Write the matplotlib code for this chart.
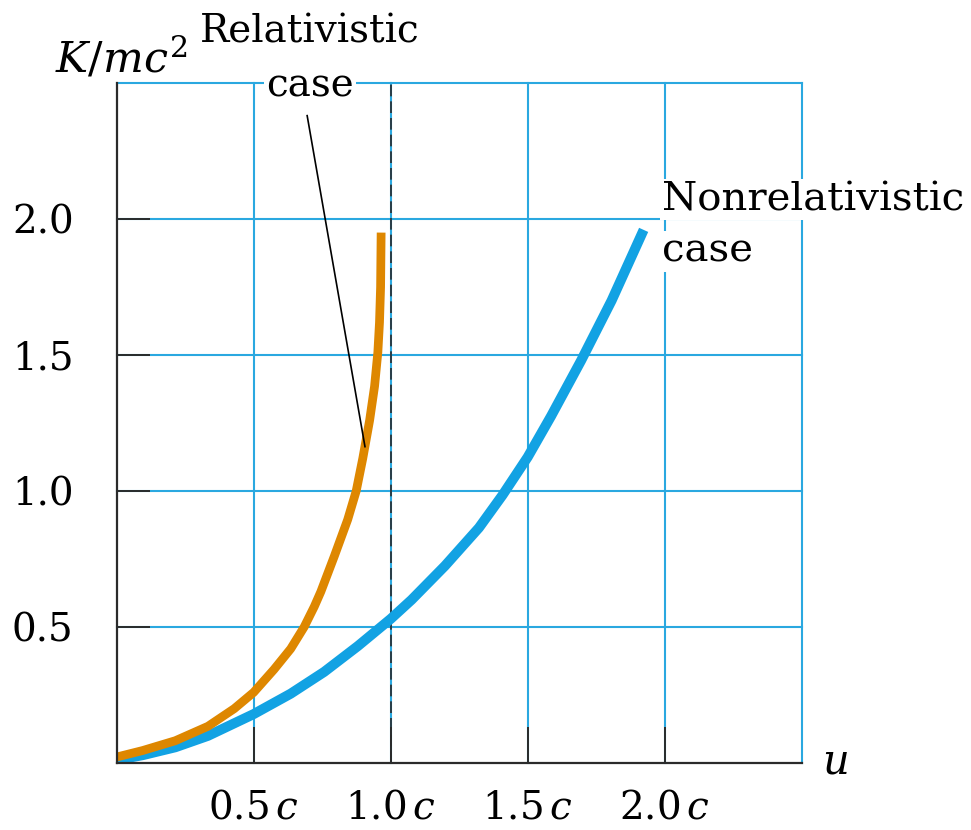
import matplotlib
matplotlib.use("Agg")
import matplotlib.pyplot as plt

plt.rcParams["font.family"] = "DejaVu Serif"
plt.rcParams["mathtext.fontset"] = "dejavuserif"

# speed u (units of c) and kinetic energy K/mc^2
u_rel = [0.0, 0.095, 0.214, 0.333, 0.429, 0.5, 0.574, 0.635, 0.684, 0.721,
         0.745, 0.794, 0.843, 0.874, 0.898, 0.923, 0.941, 0.953, 0.959,
         0.963, 0.965]
k_rel = [0.022, 0.046, 0.082, 0.135, 0.20, 0.26, 0.344, 0.42, 0.50, 0.575,
         0.63, 0.76, 0.895, 1.0, 1.12, 1.26, 1.385, 1.51, 1.62, 1.75, 1.95]

u_nonrel = [0.0, 0.095, 0.214, 0.333, 0.5, 0.635, 0.757, 0.880, 1.0, 1.076,
            1.198, 1.322, 1.408, 1.5, 1.585, 1.695, 1.806, 1.923]
k_nonrel = [0.011, 0.029, 0.058, 0.10, 0.18, 0.255, 0.335, 0.43, 0.53, 0.60,
            0.725, 0.865, 0.985, 1.125, 1.275, 1.48, 1.70, 1.96]

x_ticks = [0.5, 1.0, 1.5, 2.0]
x_labels = ["0.5$\\,c$", "1.0$\\,c$", "1.5$\\,c$", "2.0$\\,c$"]
y_ticks = [0.5, 1.0, 1.5, 2.0]
y_labels = ["0.5", "1.0", "1.5", "2.0"]
grid_vals = [0.5, 1.0, 1.5, 2.0, 2.5]

GRID = "#2aa8e0"
BLUE = "#12a2e3"
ORANGE = "#de8700"
INK = "#2b2b2b"

fig = plt.figure(figsize=(9.71, 8.30), dpi=100)
ax = fig.add_axes([0.1202, 0.0807, 0.7055, 0.8193])
ax.set_xlim(0, 2.5)
ax.set_ylim(0, 2.5)

# blue grid (the 2.5 lines close the frame at top and right)
for v in grid_vals:
    ax.axvline(v, color=GRID, lw=1.5, zorder=0.5, clip_on=False)
    ax.axhline(v, color=GRID, lw=1.5, zorder=0.5, clip_on=False)

# speed-of-light asymptote
ax.axvline(1.0, color=INK, lw=1.2, dashes=(7, 3), zorder=1)

ax.plot(u_nonrel, k_nonrel, color=BLUE, lw=7.2, solid_capstyle="butt",
        solid_joinstyle="round", zorder=2)
ax.plot(u_rel, k_rel, color=ORANGE, lw=6.3, solid_capstyle="butt",
        solid_joinstyle="round", zorder=2.1)

for side in ("top", "right"):
    ax.spines[side].set_visible(False)
for side in ("left", "bottom"):
    ax.spines[side].set_color(INK)
    ax.spines[side].set_linewidth(1.6)
    ax.spines[side].set_zorder(3)

ax.set_xticks(x_ticks)
ax.set_xticklabels(x_labels)
ax.set_yticks(y_ticks)
ax.set_yticklabels(y_labels)
ax.tick_params(axis="x", direction="in", length=26, width=1.4, color=INK,
               labelsize=28, pad=19)
ax.tick_params(axis="y", direction="in", length=24, width=1.4, color=INK,
               labelsize=28, pad=31)

# axis titles
ax.text(-0.225, 2.54, "$K/mc^2$", fontsize=31, ha="left", va="baseline",
        clip_on=False)
ax.text(2.573, -0.037, "$u$", fontsize=30, ha="left", va="baseline",
        clip_on=False)

# curve labels
white = dict(facecolor="white", edgecolor="none", pad=1.5)
ax.text(0.304, 2.65, "Relativistic", fontsize=28, ha="left", va="baseline",
        clip_on=False)
ax.text(0.705, 2.45, "case", fontsize=28, ha="center", va="baseline",
        bbox=white, zorder=4, clip_on=False)
ax.plot([0.695, 0.906], [2.38, 1.163], color="black", lw=1.2, zorder=3)

ax.text(1.99, 2.033, "Nonrelativistic", fontsize=29, ha="left",
        va="baseline", bbox=white, zorder=4, clip_on=False)
ax.text(1.99, 1.842, "case", fontsize=29, ha="left", va="baseline",
        bbox=white, zorder=4, clip_on=False)

fig.savefig("out.png", dpi=100, facecolor="white")
